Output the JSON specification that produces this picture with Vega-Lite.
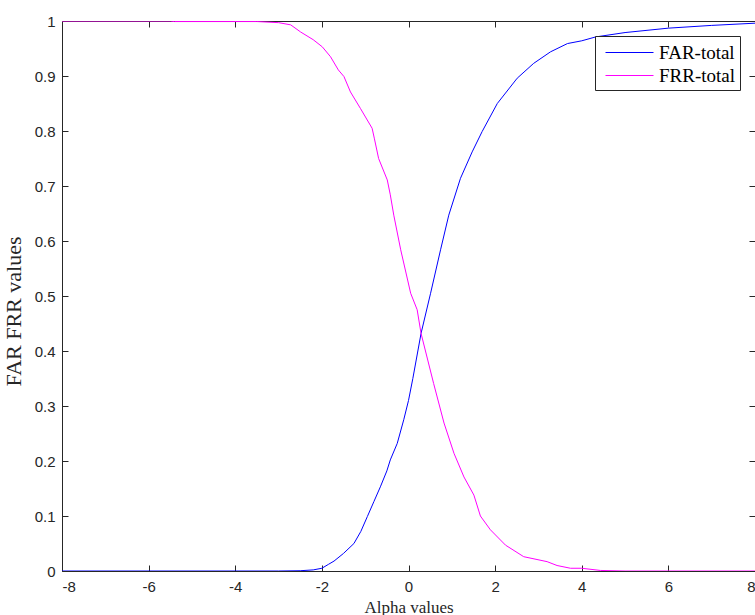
{
  "$schema": "https://vega.github.io/schema/vega-lite/v6.json",
  "width": 693,
  "height": 550,
  "autosize": {"type": "none"},
  "padding": {"left": 62, "top": 21, "right": 0, "bottom": 44},
  "background": "white",
  "config": {
    "view": {"stroke": null},
    "axis": {
      "grid": false,
      "domainColor": "#262626",
      "tickColor": "#262626",
      "tickSize": -6,
      "labelFont": "Liberation Sans",
      "labelFontSize": 15,
      "labelColor": "#262626",
      "titleFont": "Liberation Serif",
      "titleFontSize": 17,
      "titleFontWeight": "normal",
      "titleColor": "#262626"
    }
  },
  "data": {
    "values": [
      {"alpha": -8, "series": "FAR-total", "value": 0},
      {"alpha": -4, "series": "FAR-total", "value": 0},
      {"alpha": -3, "series": "FAR-total", "value": 0},
      {"alpha": -2.5, "series": "FAR-total", "value": 0.0005},
      {"alpha": -2.2, "series": "FAR-total", "value": 0.002},
      {"alpha": -2, "series": "FAR-total", "value": 0.005},
      {"alpha": -1.85, "series": "FAR-total", "value": 0.012},
      {"alpha": -1.72, "series": "FAR-total", "value": 0.018},
      {"alpha": -1.5, "series": "FAR-total", "value": 0.032},
      {"alpha": -1.26, "series": "FAR-total", "value": 0.05},
      {"alpha": -1.1, "series": "FAR-total", "value": 0.072},
      {"alpha": -0.95, "series": "FAR-total", "value": 0.099},
      {"alpha": -0.8, "series": "FAR-total", "value": 0.126},
      {"alpha": -0.65, "series": "FAR-total", "value": 0.153},
      {"alpha": -0.5, "series": "FAR-total", "value": 0.182},
      {"alpha": -0.42, "series": "FAR-total", "value": 0.202},
      {"alpha": -0.26, "series": "FAR-total", "value": 0.232},
      {"alpha": -0.11, "series": "FAR-total", "value": 0.275},
      {"alpha": 0, "series": "FAR-total", "value": 0.31},
      {"alpha": 0.1, "series": "FAR-total", "value": 0.35},
      {"alpha": 0.29, "series": "FAR-total", "value": 0.432},
      {"alpha": 0.51, "series": "FAR-total", "value": 0.505},
      {"alpha": 0.74, "series": "FAR-total", "value": 0.584},
      {"alpha": 0.93, "series": "FAR-total", "value": 0.647},
      {"alpha": 1.2, "series": "FAR-total", "value": 0.714},
      {"alpha": 1.47, "series": "FAR-total", "value": 0.762},
      {"alpha": 1.7, "series": "FAR-total", "value": 0.799},
      {"alpha": 2.05, "series": "FAR-total", "value": 0.85},
      {"alpha": 2.51, "series": "FAR-total", "value": 0.896},
      {"alpha": 2.89, "series": "FAR-total", "value": 0.923},
      {"alpha": 3.28, "series": "FAR-total", "value": 0.944},
      {"alpha": 3.67, "series": "FAR-total", "value": 0.959},
      {"alpha": 4.0, "series": "FAR-total", "value": 0.964},
      {"alpha": 4.32, "series": "FAR-total", "value": 0.971},
      {"alpha": 5, "series": "FAR-total", "value": 0.979},
      {"alpha": 6, "series": "FAR-total", "value": 0.987},
      {"alpha": 7, "series": "FAR-total", "value": 0.992},
      {"alpha": 8, "series": "FAR-total", "value": 0.996},
      {"alpha": -8, "series": "FRR-total", "value": 1},
      {"alpha": -5.5, "series": "FRR-total", "value": 1},
      {"alpha": -5.4, "series": "FRR-total", "value": 0.999},
      {"alpha": -3.5, "series": "FRR-total", "value": 0.999},
      {"alpha": -3, "series": "FRR-total", "value": 0.997},
      {"alpha": -2.72, "series": "FRR-total", "value": 0.993},
      {"alpha": -2.49, "series": "FRR-total", "value": 0.98},
      {"alpha": -2.2, "series": "FRR-total", "value": 0.966},
      {"alpha": -1.99, "series": "FRR-total", "value": 0.953},
      {"alpha": -1.8, "series": "FRR-total", "value": 0.935},
      {"alpha": -1.62, "series": "FRR-total", "value": 0.911},
      {"alpha": -1.49, "series": "FRR-total", "value": 0.899},
      {"alpha": -1.34, "series": "FRR-total", "value": 0.871},
      {"alpha": -1.11, "series": "FRR-total", "value": 0.841},
      {"alpha": -0.84, "series": "FRR-total", "value": 0.805},
      {"alpha": -0.79, "series": "FRR-total", "value": 0.787},
      {"alpha": -0.69, "series": "FRR-total", "value": 0.75},
      {"alpha": -0.49, "series": "FRR-total", "value": 0.711},
      {"alpha": -0.42, "series": "FRR-total", "value": 0.684},
      {"alpha": -0.34, "series": "FRR-total", "value": 0.647},
      {"alpha": -0.18, "series": "FRR-total", "value": 0.584},
      {"alpha": 0.05, "series": "FRR-total", "value": 0.505},
      {"alpha": 0.2, "series": "FRR-total", "value": 0.475},
      {"alpha": 0.29, "series": "FRR-total", "value": 0.432},
      {"alpha": 0.58, "series": "FRR-total", "value": 0.341},
      {"alpha": 0.82, "series": "FRR-total", "value": 0.269},
      {"alpha": 1.05, "series": "FRR-total", "value": 0.214},
      {"alpha": 1.28, "series": "FRR-total", "value": 0.171},
      {"alpha": 1.51, "series": "FRR-total", "value": 0.138},
      {"alpha": 1.66, "series": "FRR-total", "value": 0.1},
      {"alpha": 1.89, "series": "FRR-total", "value": 0.075},
      {"alpha": 2.24, "series": "FRR-total", "value": 0.047},
      {"alpha": 2.66, "series": "FRR-total", "value": 0.026},
      {"alpha": 3.2, "series": "FRR-total", "value": 0.017},
      {"alpha": 3.43, "series": "FRR-total", "value": 0.01},
      {"alpha": 3.74, "series": "FRR-total", "value": 0.005},
      {"alpha": 4.0, "series": "FRR-total", "value": 0.005},
      {"alpha": 4.43, "series": "FRR-total", "value": 0.001},
      {"alpha": 5, "series": "FRR-total", "value": 0},
      {"alpha": 8, "series": "FRR-total", "value": 0}
    ]
  },
  "layer": [
    {
      "mark": {"type": "line", "strokeWidth": 1, "clip": true},
      "encoding": {
        "x": {
          "field": "alpha", "type": "quantitative",
          "scale": {"domain": [-8, 8], "nice": false},
          "axis": {
            "orient": "bottom", "title": "Alpha values",
            "values": [-8, -6, -4, -2, 0, 2, 4, 6, 8],
            "labelExpr": "'' + datum.value",
            "labelPadding": 14, "titlePadding": 5
          }
        },
        "y": {
          "field": "value", "type": "quantitative",
          "scale": {"domain": [0, 1], "nice": false},
          "axis": {
            "orient": "left", "title": "FAR FRR values",
            "values": [0, 0.1, 0.2, 0.3, 0.4, 0.5, 0.6, 0.7, 0.8, 0.9, 1],
            "labelExpr": "'' + datum.value",
            "labelPadding": 13, "titlePadding": 9,
            "titleFontSize": 22, "titleY": 290
          }
        },
        "color": {
          "field": "series", "type": "nominal",
          "scale": {"domain": ["FAR-total", "FRR-total"], "range": ["#0000ff", "#ff00ff"]},
          "legend": {
            "title": null,
            "orient": "top-right",
            "offset": 15,
            "strokeColor": "#262626",
            "fillColor": "white",
            "padding": 4,
            "symbolType": "M-1,0H3",
            "symbolSize": 576,
            "symbolStrokeWidth": 1,
            "symbolOffset": 6,
            "labelFont": "Liberation Serif",
            "labelFontSize": 19,
            "labelColor": "#000000",
            "labelOffset": 29,
            "rowPadding": -1
          }
        }
      }
    },
    {
      "mark": {"type": "line", "strokeWidth": 1, "opacity": 0},
      "encoding": {
        "x": {
          "field": "alpha", "type": "quantitative",
          "scale": {"domain": [-8, 8], "nice": false},
          "axis": {"orient": "top", "title": null, "labels": false,
            "values": [-8, -6, -4, -2, 0, 2, 4, 6, 8]}
        },
        "y": {
          "field": "value", "type": "quantitative",
          "scale": {"domain": [0, 1], "nice": false},
          "axis": {"orient": "right", "title": null, "labels": false,
            "values": [0, 0.1, 0.2, 0.3, 0.4, 0.5, 0.6, 0.7, 0.8, 0.9, 1]}
        },
        "detail": {"field": "series"}
      }
    }
  ],
  "resolve": {"axis": {"x": "independent", "y": "independent"}}
}
